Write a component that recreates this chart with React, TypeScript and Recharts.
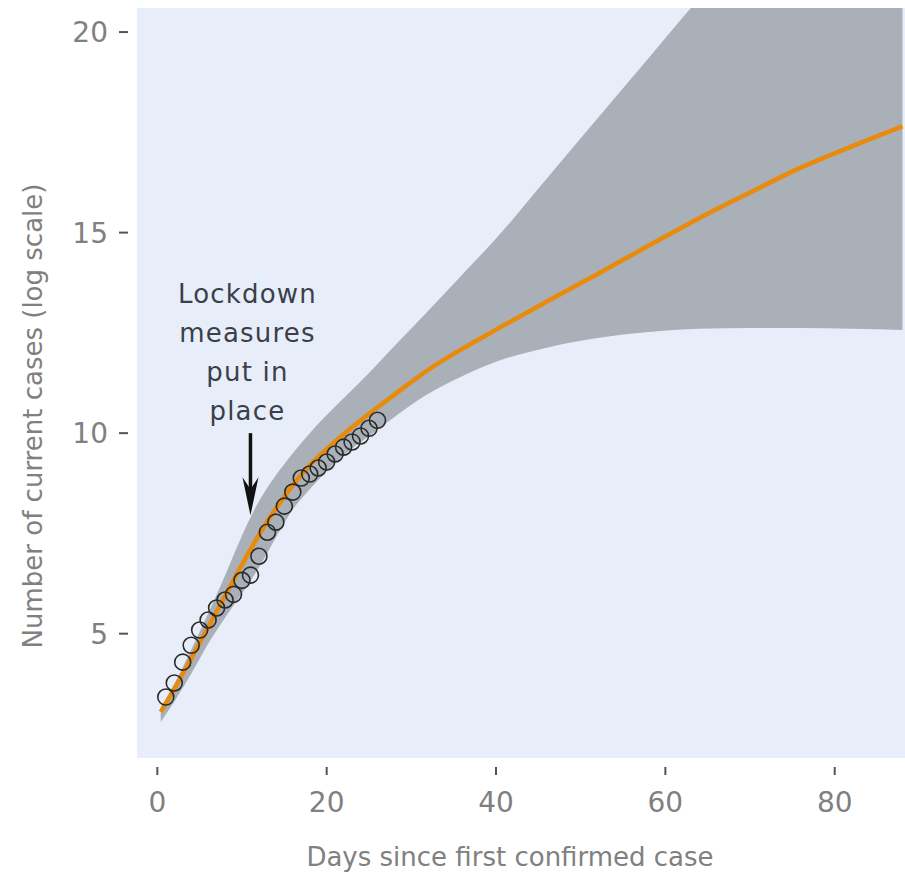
import {
  ComposedChart, Area, Line, Scatter, XAxis, YAxis, CartesianGrid, ReferenceLine, Label,
} from 'recharts'

// fitted curve + uncertainty band, sampled on these days
const DAYS  = [0.4, 2, 4, 6, 8, 10, 12, 14, 16, 18, 20, 22, 25, 28, 32, 36, 40, 46, 52, 58, 64, 70, 76, 82, 88]
const FIT   = [3.05, 3.62, 4.38, 5.16, 5.94, 6.72, 7.46, 8.12, 8.7, 9.2, 9.6, 9.97, 10.48, 10.96, 11.58, 12.1, 12.58, 13.28, 13.97, 14.67, 15.36, 16.0, 16.62, 17.15, 17.65]
const LOWER = [2.8, 3.3, 4.0, 4.75, 5.4, 6.0, 6.65, 7.4, 8.1, 8.6, 9.05, 9.45, 9.92, 10.4, 10.98, 11.42, 11.78, 12.13, 12.37, 12.52, 12.6, 12.62, 12.62, 12.6, 12.57]
const UPPER = [3.15, 3.75, 4.6, 5.5, 6.45, 7.45, 8.3, 8.95, 9.5, 10.0, 10.45, 10.87, 11.5, 12.17, 13.05, 13.95, 14.85, 16.35, 17.85, 19.35, 20.85, 22.35, 23.85, 25.35, 26.85]

// observed cases (log scale), days 1..26
const OBS_DAYS = [1, 2, 3, 4, 5, 6, 7, 8, 9, 10, 11, 12, 13, 14, 15, 16, 17, 18, 19, 20, 21, 22, 23, 24, 25, 26]
const OBS      = [3.42, 3.77, 4.29, 4.71, 5.09, 5.34, 5.64, 5.84, 5.98, 6.33, 6.46, 6.93, 7.53, 7.78, 8.18, 8.53, 8.88, 8.98, 9.13, 9.28, 9.48, 9.65, 9.78, 9.93, 10.12, 10.32]

const X_TICKS = [0, 20, 40, 60, 80]
const Y_TICKS = [5, 10, 15, 20]

const LOCKDOWN_DAY = 11
const ANNOTATION = ['Lockdown', 'measures', 'put in', 'place']

const FONT = '"DejaVu Sans", sans-serif'
const GREY = '#808080'

const chartData = DAYS.map((d, i) => ({ day: d, fit: FIT[i], band: [LOWER[i], UPPER[i]] }))
const points    = OBS_DAYS.map((d, i) => ({ day: d, value: OBS[i] }))

const YTick = ({ y, payload }: any) => (
  <g>
    <line x1={119} x2={128} y1={y} y2={y} stroke="#555" strokeWidth={2} />
    <text x={108} y={y} dy={10} textAnchor="end" fontSize={28} fill={GREY} fontFamily={FONT}>{payload.value}</text>
  </g>
)

const XTick = ({ x, payload }: any) => (
  <g>
    <line x1={x} x2={x} y1={767} y2={775} stroke="#555" strokeWidth={2} />
    <text x={x} y={812} textAnchor="middle" fontSize={28} fill={GREY} fontFamily={FONT}>{payload.value}</text>
  </g>
)

const Arrow = (p: any) => {
  const { x1, y1, y2 } = p
  return (
    <g>
      {ANNOTATION.map((t, i) => (
        <text key={t} x={x1 - 3} y={y1 - 130 + i * 39} textAnchor="middle" fontSize={26} letterSpacing={1.2}
          fill="#3a3f4a" fontFamily={FONT}>{t}</text>
      ))}
      <line x1={x1} x2={x1} y1={y1} y2={y2 - 20} stroke="#111" strokeWidth={3.5} />
      <polygon points={`${x1 - 8},${y2 - 38} ${x1},${y2 - 26} ${x1 + 8},${y2 - 38} ${x1},${y2}`} fill="#111" />
    </g>
  )
}

export default function App() {
  return (
    <div>
      <style>{'body{margin:0}'}</style>
      <ComposedChart width={905} height={874} data={chartData} margin={{ top: 8, right: 0, bottom: 0, left: 0 }}>
        <CartesianGrid fill="#e7eef9" stroke="none" horizontal={false} vertical={false} />
        <XAxis dataKey="day" type="number" domain={[-2.4, 88.3]} ticks={X_TICKS} allowDataOverflow
          axisLine={false} tickLine={false} height={116} tick={<XTick />}>
          <Label content={() => (
            <text x={510} y={866} textAnchor="middle" fontSize={26} fill={GREY} fontFamily={FONT}>
              Days since first confirmed case
            </text>
          )} />
        </XAxis>
        <YAxis type="number" domain={[1.9, 20.6]} ticks={Y_TICKS} allowDataOverflow
          axisLine={false} tickLine={false} width={137} tick={<YTick />}>
          <Label content={() => (
            <text x={33} y={416} transform="rotate(-90 33 416)" textAnchor="middle" dominantBaseline="central"
              fontSize={26} fill={GREY} fontFamily={FONT}>
              Number of current cases (log scale)
            </text>
          )} />
        </YAxis>
        <Area dataKey="band" type="monotone" fill="#a9b0b8" fillOpacity={1} stroke="none" isAnimationActive={false} />
        <Scatter data={points} dataKey="value" isAnimationActive={false}
          shape={(p: any) => <circle cx={p.cx} cy={p.cy} r={8} fill="none" stroke="#2b2b2b" strokeWidth={1.6} />} />
        <Line dataKey="fit" type="monotone" stroke="#e98a0a" strokeWidth={4.5} dot={false} isAnimationActive={false} />
        <ReferenceLine segment={[{ x: LOCKDOWN_DAY, y: 10.0 }, { x: LOCKDOWN_DAY, y: 7.95 }]} shape={<Arrow />} />
      </ComposedChart>
    </div>
  )
}
